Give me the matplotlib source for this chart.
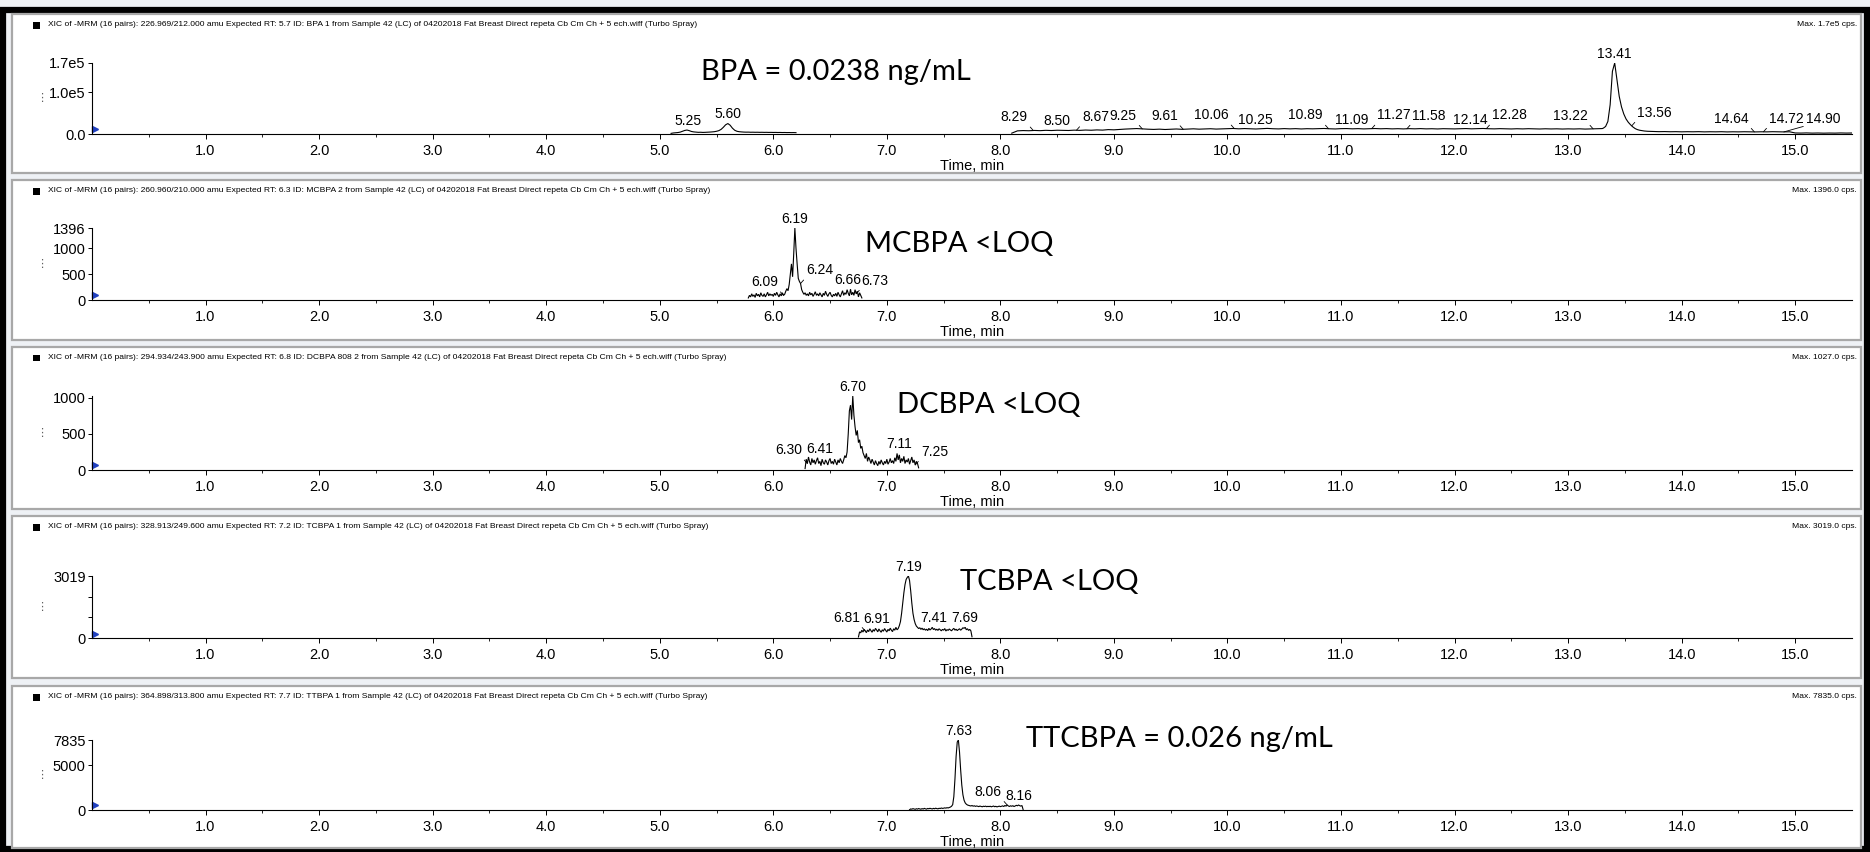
import numpy as np
import matplotlib
matplotlib.use("Agg")
import matplotlib.pyplot as plt
from matplotlib.patches import Rectangle
from matplotlib.transforms import blended_transform_factory

W, H, DPI = 1870, 852, 100

# ------------------------------------------------------------------ data
x_tick_values = [1.0, 2.0, 3.0, 4.0, 5.0, 6.0, 7.0, 8.0, 9.0, 10.0, 11.0, 12.0, 13.0, 14.0, 15.0]
x_tick_labels = ["1.0", "2.0", "3.0", "4.0", "5.0", "6.0", "7.0", "8.0", "9.0", "10.0",
                 "11.0", "12.0", "13.0", "14.0", "15.0"]

headers = [
    "XIC of -MRM (16 pairs): 226.969/212.000 amu Expected RT: 5.7 ID: BPA 1 from Sample 42 (LC) of 04202018 Fat Breast Direct repeta Cb Cm Ch + 5 ech.wiff (Turbo Spray)",
    "XIC of -MRM (16 pairs): 260.960/210.000 amu Expected RT: 6.3 ID: MCBPA 2 from Sample 42 (LC) of 04202018 Fat Breast Direct repeta Cb Cm Ch + 5 ech.wiff (Turbo Spray)",
    "XIC of -MRM (16 pairs): 294.934/243.900 amu Expected RT: 6.8 ID: DCBPA 808 2 from Sample 42 (LC) of 04202018 Fat Breast Direct repeta Cb Cm Ch + 5 ech.wiff (Turbo Spray)",
    "XIC of -MRM (16 pairs): 328.913/249.600 amu Expected RT: 7.2 ID: TCBPA 1 from Sample 42 (LC) of 04202018 Fat Breast Direct repeta Cb Cm Ch + 5 ech.wiff (Turbo Spray)",
    "XIC of -MRM (16 pairs): 364.898/313.800 amu Expected RT: 7.7 ID: TTBPA 1 from Sample 42 (LC) of 04202018 Fat Breast Direct repeta Cb Cm Ch + 5 ech.wiff (Turbo Spray)",
]
max_labels = ["Max. 1.7e5 cps.", "Max. 1396.0 cps.", "Max. 1027.0 cps.", "Max. 3019.0 cps.", "Max. 7835.0 cps."]
y_max = [1.7e5, 1396, 1027, 3019, 7835]
y_tick_values = [[0, 1.0e5, 1.7e5], [0, 500, 1000, 1396], [0, 500, 1000], [0, 3019], [0, 5000, 7835]]
y_tick_labels = [["0.0", "1.0e5", "1.7e5"], ["0", "500", "1000", "1396"], ["0", "500", "1000"],
                 ["0", "3019"], ["0", "5000", "7835"]]

results = ["BPA = 0.0238 ng/mL", "MCBPA <LOQ", "DCBPA <LOQ", "TCBPA <LOQ", "TTCBPA = 0.026 ng/mL"]

# BPA trace (cps), segments: (start min, end min, values)
bpa_a = (5.10, 6.20, [1500, 2500, 3000, 3500, 4500, 6500, 8500, 9500, 8000, 6000, 5000, 4500, 4000, 4200,
                      3800, 4000, 4300, 4600, 5000, 5500, 6500, 8000, 11000, 16000, 22000, 25000, 21000,
                      14000, 9000, 6500, 5500, 5000, 4600, 4400, 4500, 4200, 4300, 4100, 4200, 4000, 4100,
                      3900, 4000, 3800, 3900, 3700, 3800, 3600, 3700, 3500, 3600, 3400, 3500, 3300, 3400, 3200])
bpa_b1 = (8.10, 13.30, [2000, 7500, 8200, 7800, 8500, 8000, 8800, 8300, 9000, 8600, 8400, 9200, 8700, 9500,
                        9000, 9800, 9300, 10500, 10000,
                        11000, 11800, 12500, 13000, 12200, 11500, 11000, 11600, 10800, 11400, 12000, 11200,
                        11800, 12400, 11600, 12000, 12600, 11800, 12200, 12800,
                        13200, 12400, 13000, 12600, 12000, 12800, 13400, 12600, 12200, 12900, 12300, 12800,
                        12100, 12700, 12400, 12900, 13200, 12500, 12100, 12800,
                        13000, 12400, 12800, 12200, 12600, 13100, 12500, 12900, 12300, 12700, 12200, 12800,
                        12400, 12900, 12300, 12600, 12100, 12700, 12500, 12200,
                        12600, 13000, 12400, 12800, 13200, 12600, 12300, 12800, 12400, 12100, 12600, 12200,
                        12700, 12300, 12000, 12500, 12100, 12400, 11900, 12300,
                        12000, 12400, 11800, 12200, 12600, 13000])
bpa_b2 = (13.31, 13.69, [14000, 18000, 30000, 70000, 150000, 170000, 130000, 90000, 65000, 48000, 36000,
                         28000, 22000, 17000, 13000, 10500, 9000, 8000, 7200, 6800])
bpa_b3 = (13.70, 15.50, [6500, 6000, 5600, 5800, 5400, 5600, 5200, 5500, 5300, 5600, 5100, 5400, 5200,
                         5500, 5000, 5300, 5100, 5400, 5200, 5000, 5300, 5100, 5500, 5200, 5000, 5300,
                         2500, 2200, 2600, 2100, 2400, 2000, 2300, 2100, 2500, 2200, 2400])

mcbpa_seg = (5.78, 6.78, [40, 90, 60, 120, 70, 100, 50, 130, 80, 110, 60, 140, 90, 70, 120, 60, 100, 150, 80,
                          120, 90, 110,
                          70, 130, 90, 150, 100, 60, 120, 80, 140, 90,
                          110, 170, 220, 180, 300, 500, 700, 450, 900, 1396,
                          1000, 700, 420, 360, 320, 200, 150, 110, 140, 90,
                          120, 80, 150, 100, 130, 70, 110, 160, 90, 120,
                          80, 140, 100, 60, 130, 90, 170, 110, 70, 120,
                          150, 90, 60, 110, 80, 130, 70, 150, 100, 60,
                          120, 180, 90, 140, 110, 200, 130, 80, 210, 100,
                          150, 90, 200, 120, 170, 60, 140, 90, 40])

dcbpa_seg = (6.28, 7.28, [20, 150, 90, 180, 110, 70, 160, 100, 140, 80,
                          130, 170, 90, 120, 60, 150, 100, 80, 140, 110,
                          70, 130, 160, 90, 120, 80, 150, 110, 70, 140,
                          100, 160, 120, 90, 140, 200, 170, 250, 500, 820,
                          900, 700, 1027, 760, 600, 480, 550, 380, 420, 300,
                          330, 240, 200, 160, 230, 120, 180, 140, 90, 150,
                          110, 70, 130, 90, 60, 120, 80, 140, 100, 70,
                          120, 90, 150, 80, 110, 160, 100, 130, 90, 170,
                          120, 230, 140, 210, 100, 160, 120, 190, 90, 140,
                          110, 160, 80, 130, 180, 100, 140, 70, 120, 90, 30])

tcbpa_seg = (6.75, 7.75, [50, 300, 250, 380, 290, 420, 340, 260, 390, 310,
                          450, 360, 280, 410, 330, 470, 390, 300, 440, 350,
                          280, 400, 330, 460, 370, 290, 420, 350, 480, 380,
                          310, 450, 380, 520, 400, 460, 600, 800, 1200, 1700,
                          2200, 2600, 2850, 2950, 3019, 2800, 2300, 1700, 1200, 900,
                          700, 580, 520, 460, 500, 420, 480, 400, 450, 380,
                          430, 360, 470, 390, 440, 520, 410, 460, 380, 430,
                          370, 450, 400, 350, 420, 380, 460, 340, 410, 370,
                          440, 390, 350, 420, 470, 380, 430, 360, 410, 450,
                          380, 430, 500, 470, 520, 400, 450, 370, 420, 350, 60])

ttcbpa_seg = (7.20, 8.20, [30, 120, 90, 150, 110, 80, 140, 100, 160, 120,
                           90, 150, 110, 180, 130, 100, 170, 140, 190, 150,
                           120, 180, 140, 200, 160, 130, 190, 170, 220, 180,
                           200, 240, 210, 260, 230, 280, 330, 420, 600, 1500,
                           3500, 6000, 7600, 7835, 6500, 4500, 2800, 1700, 1100, 800,
                           650, 560, 520, 480, 450, 500, 430, 470, 410, 450,
                           420, 380, 440, 400, 360, 420, 390, 430, 370, 410,
                           380, 420, 360, 400, 440, 370, 410, 350, 390, 430,
                           380, 420, 460, 390, 510, 430, 560, 450, 400, 470,
                           420, 480, 390, 450, 520, 470, 560, 480, 440, 500, 60])

# peak labels (retention times) per panel
bpa_peaks = ["5.25", "5.60", "8.29", "8.50", "8.67", "9.25", "9.61", "10.06", "10.25", "10.89", "11.09",
             "11.27", "11.58", "12.14", "12.28", "13.22", "13.41", "13.56", "14.64", "14.72", "14.90"]
mcbpa_peaks = ["6.09", "6.19", "6.24", "6.66", "6.73"]
dcbpa_peaks = ["6.30", "6.41", "6.70", "7.11", "7.25"]
tcbpa_peaks = ["6.81", "6.91", "7.19", "7.41", "7.69"]
ttcbpa_peaks = ["7.63", "8.06", "8.16"]

# ------------------------------------------------------------------ style / layout
# label side: 0 = centred above, negative = left of peak, positive = right (x4 points)
bpa_dirs = [0, 0, -1, 0, 1, -1, -1, -1, 0, -1, 0, 1, 1, 0, 1, -1, 0, 1, -1, 1, 4]
mcbpa_dirs = [-1, 0, 1, 0, 1]
dcbpa_dirs = [-1, 0, 0, 0, 1]
tcbpa_dirs = [-1, 0, 0, 0, 0]
ttcbpa_dirs = [0, -1, 0]

panels = [
    dict(segs=[[bpa_a], [bpa_b1, bpa_b2, bpa_b3]], peaks=bpa_peaks, dirs=bpa_dirs,
         frame=(14, 173), axes=(63, 134), res_xy=(701, 72), minor_y=[]),
    dict(segs=[[mcbpa_seg]], peaks=mcbpa_peaks, dirs=mcbpa_dirs,
         frame=(180, 340), axes=(228, 300), res_xy=(865, 244), minor_y=[]),
    dict(segs=[[dcbpa_seg]], peaks=dcbpa_peaks, dirs=dcbpa_dirs,
         frame=(347, 509), axes=(396, 470), res_xy=(897, 405), minor_y=[]),
    dict(segs=[[tcbpa_seg]], peaks=tcbpa_peaks, dirs=tcbpa_dirs,
         frame=(516, 678), axes=(576, 638), res_xy=(960, 582), minor_y=[1000, 2000]),
    dict(segs=[[ttcbpa_seg]], peaks=ttcbpa_peaks, dirs=ttcbpa_dirs,
         frame=(686, 848), axes=(740, 810), res_xy=(1026, 739), minor_y=[]),
]

AX_LEFT, AX_RIGHT = 92, 1852
FR_LEFT, FR_RIGHT = 12, 1861
TICK_FONT = ["Liberation Sans", "DejaVu Sans"]

fig = plt.figure(figsize=(W / DPI, H / DPI), dpi=DPI)
fig.patch.set_facecolor("#eef1f5")


def fx(px):
    return px / W


def fy(py):
    return 1 - py / H


# outer black frame
fig.add_artist(Rectangle((fx(3), fy(849)), fx(1864), (849 - 10) / H, transform=fig.transFigure,
                         facecolor="none", edgecolor="black", linewidth=4.5, zorder=0))

for i, p in enumerate(panels):
    ftop, fbot = p["frame"]
    fig.add_artist(Rectangle((fx(FR_LEFT), fy(fbot)), fx(FR_RIGHT - FR_LEFT), (fbot - ftop) / H,
                             transform=fig.transFigure, facecolor="white", edgecolor="#a8a8a8",
                             linewidth=1.6, zorder=0))
    hy = fy(ftop + 11)
    fig.add_artist(Rectangle((fx(33), hy - 3.5 / H), fx(7), 7 / H, transform=fig.transFigure,
                             facecolor="black", edgecolor="none"))
    fig.text(fx(48), hy, headers[i], fontsize=6.1, va="center", ha="left", family=TICK_FONT)
    fig.text(fx(1857), hy, max_labels[i], fontsize=6.1, va="center", ha="right", family=TICK_FONT)

    atop, abot = p["axes"]
    ax = fig.add_axes([fx(AX_LEFT), fy(abot), fx(AX_RIGHT - AX_LEFT), (abot - atop) / H])
    ax.set_facecolor("none")
    ax.set_xlim(0, 15.5)
    ax.set_ylim(0, y_max[i])
    for s in ("top", "right"):
        ax.spines[s].set_visible(False)
    ax.spines["left"].set_linewidth(0.8)
    ax.spines["bottom"].set_linewidth(0.8)

    all_t, all_v = [], []
    for group in p["segs"]:
        tt, vv = [], []
        for (t0, t1, vals) in group:
            tt.append(np.linspace(t0, t1, len(vals)))
            vv.append(np.asarray(vals, dtype=float))
        tt = np.concatenate(tt)
        vv = np.concatenate(vv)
        ax.plot(tt, vv, color="black", lw=0.8, solid_joinstyle="miter")
        all_t.append(tt)
        all_v.append(vv)
    all_t = np.concatenate(all_t)
    all_v = np.concatenate(all_v)
    order = np.argsort(all_t)
    all_t, all_v = all_t[order], all_v[order]

    for lab, d in zip(p["peaks"], p["dirs"]):
        t = float(lab)
        if d == 0:
            win = np.abs(all_t - t) <= 0.021
            yv = all_v[win].max() if win.any() else np.interp(t, all_t, all_v)
            ax.annotate(lab, (t, yv), xytext=(0, 1.5), textcoords="offset points", ha="center",
                        va="bottom", fontsize=10, family=TICK_FONT, annotation_clip=False)
        else:
            yv = np.interp(t, all_t, all_v)
            ax.annotate(lab, (t, yv), xytext=(d * 4, 4.5), textcoords="offset points",
                        ha="left" if d > 0 else "right", va="bottom", fontsize=10, family=TICK_FONT,
                        annotation_clip=False,
                        arrowprops=dict(arrowstyle="-", lw=0.6, color="black", shrinkA=0, shrinkB=0,
                                        relpos=(0, 0) if d > 0 else (1, 0)))

    ax.set_xticks(x_tick_values)
    ax.set_xticklabels(x_tick_labels, family=TICK_FONT, fontsize=10.5)
    ax.set_xticks(np.arange(0.5, 15.5, 1.0), minor=True)
    ax.set_yticks(y_tick_values[i])
    ax.set_yticklabels(y_tick_labels[i], family=TICK_FONT, fontsize=10.5)
    if p["minor_y"]:
        ax.set_yticks(p["minor_y"], minor=True)
    ax.tick_params(axis="x", which="major", length=3.5, width=0.7, pad=4, direction="out")
    ax.tick_params(axis="x", which="minor", length=2, width=0.6, direction="out")
    ax.tick_params(axis="y", which="both", length=3, width=0.7, pad=1.5, direction="out")
    ax.set_xlabel("Time, min", fontsize=10.5, family=TICK_FONT, labelpad=0.5)

    # blue origin marker and the dotted handle at left
    trans = blended_transform_factory(ax.transData, ax.transAxes)
    ax.plot([0.03], [0.07], marker=">", color="#2040c0", ms=4, transform=trans, clip_on=False)
    fig.text(fx(42), fy((atop + abot) / 2), "\u22ee", fontsize=8, color="#606060", ha="center", va="center",
             family=["DejaVu Sans"])

    fig.text(fx(p["res_xy"][0]), fy(p["res_xy"][1]), results[i], fontsize=21, ha="left", va="center",
             family=["Lato", "DejaVu Sans"])

fig.savefig("out.png", dpi=DPI, facecolor=fig.get_facecolor())
